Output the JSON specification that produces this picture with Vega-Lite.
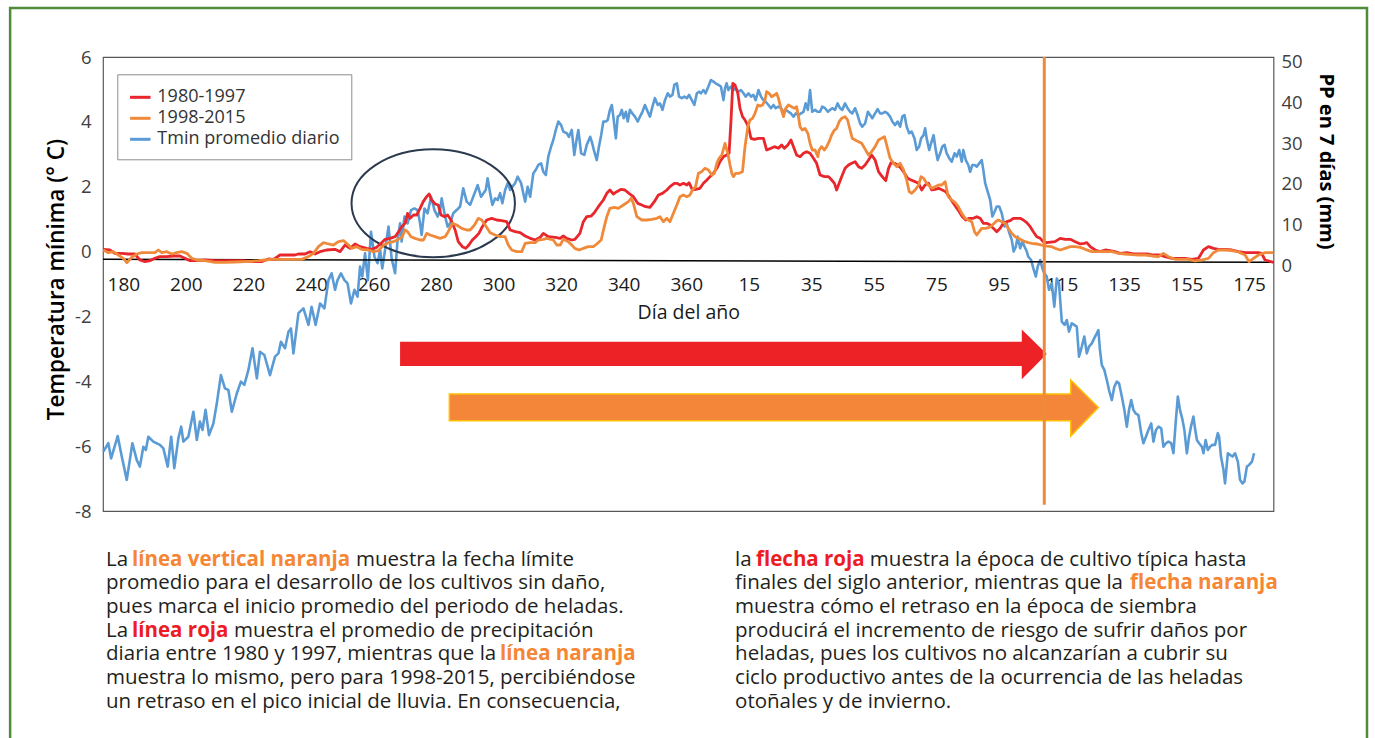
{
"$schema": "https://vega.github.io/schema/vega-lite/v6.json",
"width": 1170.5,
"height": 454,
"autosize": {"type": "none"},
"padding": {"left": 103, "top": 57, "right": 101.5, "bottom": 227},
"background": "white",
"config": {"font": "Open Sans", "view": {"stroke": "#595959", "strokeWidth": 1.2}},
"datasets": {
"frame": [{"d": 143.8, "d2": 577.7, "t": 7.51, "t2": -15.7}],
"zero": [{"d": 173.5, "d2": 547.8, "p": 1.4, "p2": 0.66}],
"vline": [{"d": 474.5, "t": 6, "t2": -7.81}],
"ellipse": [{"d": 279.1, "t": 1.49}],
"arrowRed": [{"d": 268.5, "t": -2.78, "t2": -3.53}, {"d": 467.3, "t": -2.78, "t2": -3.53}, {"d": 467.31, "t": -2.40, "t2": -3.94}, {"d": 475.3, "t": -3.16, "t2": -3.16}],
"arrowOrange": [{"d": 284.25, "t": -4.39, "t2": -5.22}, {"d": 482.97, "t": -4.39, "t2": -5.22}, {"d": 482.98, "t": -3.96, "t2": -5.69}, {"d": 491.8, "t": -4.81, "t2": -4.81}],
"notes": [
{"d": 174.47, "t": -9.686, "k": "n", "s": "La"},
{"d": 182.78, "t": -9.686, "k": "o", "s": "línea vertical naranja"},
{"d": 254.42, "t": -9.686, "k": "n", "s": "muestra la fecha límite"},
{"d": 174.47, "t": -10.417, "k": "n", "s": "promedio para el desarrollo de los cultivos sin daño,"},
{"d": 174.47, "t": -11.148, "k": "n", "s": "pues marca el inicio promedio del periodo de heladas."},
{"d": 174.47, "t": -11.879, "k": "n", "s": "La"},
{"d": 182.78, "t": -11.879, "k": "r", "s": "línea roja"},
{"d": 215.4, "t": -11.879, "k": "n", "s": "muestra el promedio de precipitación"},
{"d": 174.47, "t": -12.61, "k": "n", "s": "diaria entre 1980 y 1997, mientras que la"},
{"d": 300.47, "t": -12.61, "k": "o", "s": "línea naranja"},
{"d": 174.47, "t": -13.34, "k": "n", "s": "muestra lo mismo, pero para 1998-2015, percibiéndose"},
{"d": 174.47, "t": -14.071, "k": "n", "s": "un retraso en el pico inicial de lluvia. En consecuencia,"},
{"d": 375.62, "t": -9.686, "k": "n", "s": "la"},
{"d": 382.33, "t": -9.686, "k": "r", "s": "flecha roja"},
{"d": 418.72, "t": -9.686, "k": "n", "s": "muestra la época de cultivo típica hasta"},
{"d": 375.62, "t": -10.417, "k": "n", "s": "finales del siglo anterior, mientras que la"},
{"d": 501.94, "t": -10.417, "k": "o", "s": "flecha naranja"},
{"d": 375.62, "t": -11.148, "k": "n", "s": "muestra cómo el retraso en la época de siembra"},
{"d": 375.62, "t": -11.879, "k": "n", "s": "producirá el incremento de riesgo de sufrir daños por"},
{"d": 375.62, "t": -12.61, "k": "n", "s": "heladas, pues los cultivos no alcanzarían a cubrir su"},
{"d": 375.62, "t": -13.34, "k": "n", "s": "ciclo productivo antes de la ocurrencia de las heladas"},
{"d": 375.62, "t": -14.071, "k": "n", "s": "otoñales y de invierno."}
],
"tmin": [
{"d":173.6,"t":-6.17},{"d":175.2,"t":-5.91},{"d":176.1,"t":-6.38},{"d":178.2,"t":-5.69},{"d":179.5,"t":-6.32},{"d":181.1,"t":-7.04},{"d":182.9,"t":-5.91},{"d":184.3,"t":-6.43},{"d":185.3,"t":-6.63},{"d":186.4,"t":-6.02},{"d":187.2,"t":-6.12},{"d":188.0,"t":-5.71},{"d":189.6,"t":-5.86},{"d":191.7,"t":-5.96},{"d":192.8,"t":-6.07},{"d":194.2,"t":-6.63},{"d":195.3,"t":-5.71},{"d":196.3,"t":-6.68},{"d":197.6,"t":-5.76},{"d":198.5,"t":-5.40},{"d":199.2,"t":-5.86},{"d":200.8,"t":-5.71},{"d":202.4,"t":-4.94},{"d":203.5,"t":-5.81},{"d":204.5,"t":-5.24},{"d":205.3,"t":-5.50},{"d":206.3,"t":-4.88},{"d":207.4,"t":-5.66},{"d":208.8,"t":-5.30},{"d":209.9,"t":-4.68},{"d":211.2,"t":-3.81},{"d":212.5,"t":-4.22},{"d":213.6,"t":-4.27},{"d":214.7,"t":-4.94},{"d":216.3,"t":-4.37},{"d":217.6,"t":-4.01},{"d":218.7,"t":-4.11},{"d":220.0,"t":-3.65},{"d":221.3,"t":-2.98},{"d":222.7,"t":-3.91},{"d":223.7,"t":-3.09},{"d":225.1,"t":-3.19},{"d":226.9,"t":-3.81},{"d":228.5,"t":-3.24},{"d":229.6,"t":-3.14},{"d":230.4,"t":-2.78},{"d":231.7,"t":-2.98},{"d":232.8,"t":-2.47},{"d":233.6,"t":-2.37},{"d":234.4,"t":-3.14},
{"d":236.0,"t":-1.90},{"d":237.6,"t":-1.75},{"d":239.2,"t":-2.26},{"d":240.2,"t":-1.70},{"d":241.5,"t":-2.26},{"d":242.9,"t":-1.60},{"d":244.3,"t":-1.75},{"d":245.6,"t":-0.88},{"d":246.6,"t":-0.67},{"d":247.7,"t":-1.18},{"d":248.5,"t":-0.88},{"d":249.6,"t":-0.67},{"d":250.7,"t":-0.88},{"d":251.7,"t":-0.98},{"d":252.8,"t":-1.60},{"d":253.9,"t":-1.18},{"d":254.9,"t":-1.39},{"d":255.7,"t":-0.46},{"d":256.4,"t":-0.77},{"d":257.3,"t":-0.05},{"d":258.2,"t":-0.88},{"d":259.2,"t":0.61},{"d":260.3,"t":-0.16},{"d":261.3,"t":-0.36},{"d":262.1,"t":0.05},{"d":262.8,"t":-0.52},{"d":263.7,"t":0.05},{"d":264.8,"t":0.77},{"d":265.8,"t":-0.21},{"d":266.9,"t":-0.67},{"d":267.7,"t":0.36},{"d":268.5,"t":0.87},{"d":269.0,"t":0.31},{"d":269.9,"t":1.08},{"d":270.9,"t":0.87},{"d":272.0,"t":1.28},{"d":273.1,"t":1.33},{"d":274.1,"t":1.28},{"d":274.9,"t":0.87},{"d":275.4,"t":0.51},{"d":276.3,"t":1.33},{"d":277.3,"t":1.18},{"d":278.4,"t":1.69},{"d":279.5,"t":1.28},{"d":280.5,"t":1.08},{"d":281.3,"t":1.28},{"d":281.8,"t":1.64},{"d":282.9,"t":1.08},{"d":283.7,"t":0.77},{"d":284.5,"t":0.87},{"d":285.5,"t":1.18},{"d":286.6,"t":1.28},{"d":287.7,"t":1.39},{"d":288.7,"t":1.95},{"d":289.8,"t":1.54},{"d":290.9,"t":1.44},{"d":291.9,"t":1.69},{"d":293.3,"t":2.05},
{"d":294.4,"t":1.69},{"d":295.9,"t":1.90},{"d":296.5,"t":2.26},{"d":297.3,"t":1.80},{"d":298.0,"t":1.44},{"d":298.9,"t":1.64},{"d":299.7,"t":1.59},{"d":300.5,"t":1.80},{"d":301.2,"t":1.49},{"d":302.1,"t":1.90},{"d":302.9,"t":2.11},{"d":303.7,"t":1.90},{"d":304.4,"t":2.00},{"d":305.3,"t":2.11},{"d":306.1,"t":2.31},{"d":307.2,"t":2.11},{"d":307.9,"t":1.80},{"d":308.5,"t":1.54},{"d":309.3,"t":2.00},{"d":310.1,"t":1.69},{"d":311.1,"t":2.41},{"d":311.9,"t":2.52},{"d":312.7,"t":2.67},{"d":313.6,"t":2.72},{"d":314.3,"t":2.46},{"d":315.1,"t":2.36},{"d":315.9,"t":2.93},{"d":316.8,"t":3.24},{"d":317.5,"t":3.44},{"d":318.3,"t":3.75},{"d":319.1,"t":4.01},{"d":320.0,"t":3.90},{"d":320.7,"t":3.70},{"d":321.8,"t":3.65},{"d":322.5,"t":3.54},{"d":323.4,"t":3.75},{"d":324.2,"t":2.98},{"d":325.0,"t":3.49},{"d":325.5,"t":3.75},{"d":326.4,"t":3.03},{"d":327.4,"t":2.98},{"d":328.2,"t":3.29},{"d":329.3,"t":3.54},{"d":329.8,"t":3.39},{"d":330.6,"t":3.08},{"d":331.4,"t":2.82},{"d":332.1,"t":3.24},{"d":332.8,"t":3.59},{"d":333.5,"t":4.01},{"d":334.3,"t":4.01},{"d":334.9,"t":4.06},{"d":335.6,"t":4.37},{"d":336.2,"t":4.52},{"d":336.7,"t":4.16},{"d":337.5,"t":3.49},{"d":338.1,"t":4.16},{"d":338.8,"t":4.21},{"d":339.4,"t":4.37},{"d":340.0,"t":4.11},{"d":340.7,"t":4.31},{"d":341.3,"t":4.01},{"d":342.0,"t":4.37},{"d":342.8,"t":4.26},{"d":343.6,"t":4.16},{"d":344.5,"t":4.01},{"d":345.2,"t":4.16},{"d":346.0,"t":4.31},{"d":346.8,"t":4.52},{"d":347.7,"t":4.31},{"d":348.4,"t":4.16},{"d":349.2,"t":4.47},{"d":350.0,"t":4.73},{"d":350.9,"t":4.52},{"d":351.6,"t":4.57},{"d":352.4,"t":4.37},{"d":353.2,"t":4.67},{"d":354.1,"t":4.88},{"d":354.8,"t":4.78},{"d":355.6,"t":4.83},{"d":356.2,"t":5.14},
{"d":357.0,"t":5.19},{"d":357.7,"t":4.78},{"d":358.6,"t":4.73},{"d":359.4,"t":4.78},{"d":360.2,"t":4.73},{"d":360.9,"t":4.83},{"d":361.8,"t":4.67},{"d":362.6,"t":4.52},{"d":363.4,"t":4.88},{"d":364.1,"t":4.93},{"d":364.7,"t":4.88},{"d":365.5,"t":4.98},{"d":366.2,"t":4.88},{"d":367.1,"t":5.09},{"d":367.9,"t":5.29},{"d":368.7,"t":5.24},{"d":369.4,"t":5.19},{"d":370.3,"t":5.14},{"d":371.1,"t":5.09},{"d":371.9,"t":4.67},{"d":372.4,"t":5.03},{"d":372.9,"t":5.19},{"d":373.5,"t":4.98},{"d":374.3,"t":5.09},{"d":375.1,"t":4.98},{"d":375.8,"t":5.03},{"d":376.7,"t":4.93},{"d":377.5,"t":4.98},{"d":378.3,"t":4.88},{"d":379.0,"t":4.78},{"d":379.9,"t":4.88},{"d":380.7,"t":4.78},{"d":381.5,"t":4.83},{"d":382.2,"t":4.67},{"d":383.1,"t":4.98},{"d":383.9,"t":4.78},{"d":384.7,"t":4.67},{"d":385.4,"t":4.62},{"d":386.3,"t":4.52},{"d":387.1,"t":4.42},{"d":387.9,"t":4.52},{"d":388.6,"t":4.42},{"d":389.5,"t":4.47},{"d":390.3,"t":4.42},{"d":391.1,"t":4.31},{"d":391.8,"t":4.37},{"d":392.7,"t":4.31},{"d":393.5,"t":4.26},{"d":394.3,"t":4.16},{"d":395.0,"t":4.26},{"d":395.9,"t":4.21},{"d":396.7,"t":4.26},{"d":397.5,"t":4.31},{"d":398.2,"t":4.57},{"d":398.9,"t":4.37},{"d":399.6,"t":4.98},{"d":400.3,"t":4.31},{"d":401.2,"t":4.37},{"d":402.0,"t":4.31},{"d":402.8,"t":4.31},{"d":403.5,"t":4.47},{"d":404.4,"t":4.42},{"d":405.3,"t":4.31},{"d":406.0,"t":4.37},{"d":406.7,"t":4.42},{"d":407.6,"t":4.37},{"d":408.4,"t":4.57},{"d":409.2,"t":4.42},{"d":409.9,"t":4.37},{"d":410.8,"t":4.57},{"d":411.6,"t":4.42},{"d":412.4,"t":4.31},{"d":413.1,"t":4.26},{"d":414.0,"t":4.42},{"d":414.8,"t":4.21},{"d":415.6,"t":3.95},{"d":416.3,"t":3.85},{"d":417.2,"t":3.95},
{"d":418.1,"t":4.31},{"d":418.8,"t":4.21},{"d":419.5,"t":4.11},{"d":420.4,"t":4.26},{"d":421.2,"t":4.39},{"d":422.0,"t":4.26},{"d":422.7,"t":4.26},{"d":423.6,"t":4.31},{"d":424.4,"t":4.26},{"d":425.2,"t":4.16},{"d":425.9,"t":4.01},{"d":426.8,"t":3.90},{"d":427.6,"t":4.01},{"d":428.4,"t":3.85},{"d":429.1,"t":4.16},{"d":429.8,"t":4.21},{"d":430.5,"t":3.85},{"d":431.3,"t":3.65},{"d":432.1,"t":3.70},{"d":433.0,"t":3.49},{"d":433.7,"t":3.13},{"d":434.5,"t":3.24},{"d":435.1,"t":3.49},{"d":435.9,"t":3.59},{"d":436.4,"t":3.80},{"d":436.9,"t":3.49},{"d":437.7,"t":3.13},{"d":438.3,"t":3.34},{"d":439.1,"t":3.59},{"d":439.8,"t":3.13},{"d":440.4,"t":2.82},{"d":441.2,"t":3.03},{"d":441.9,"t":3.24},{"d":442.6,"t":3.29},{"d":443.3,"t":3.03},{"d":444.1,"t":2.88},{"d":444.9,"t":2.77},{"d":445.8,"t":3.03},{"d":446.5,"t":2.93},{"d":447.3,"t":3.13},{"d":448.1,"t":2.77},{"d":448.6,"t":3.13},{"d":449.4,"t":2.82},{"d":450.2,"t":2.67},{"d":450.8,"t":2.46},{"d":451.5,"t":2.67},{"d":452.2,"t":2.67},{"d":452.9,"t":2.62},{"d":453.7,"t":2.72},{"d":454.5,"t":2.82},{"d":455.0,"t":2.52},{"d":455.6,"t":2.11},{"d":456.4,"t":1.85},{"d":457.2,"t":1.59},{"d":457.9,"t":1.08},{"d":458.6,"t":1.23},{"d":459.3,"t":1.39},{"d":460.1,"t":1.39},{"d":460.9,"t":1.18},{"d":461.8,"t":0.77},{"d":462.5,"t":0.87},{"d":463.2,"t":0.61},{"d":464.1,"t":0.36},{"d":464.7,"t":0.00},{"d":465.4,"t":0.15},{"d":466.0,"t":0.46},{"d":466.8,"t":0.10},{"d":467.5,"t":0.31},{"d":468.2,"t":0.15},{"d":468.9,"t":0.00},{"d":469.4,"t":-0.16},{"d":470.3,"t":-0.26},{"d":471.0,"t":-0.52},{"d":471.8,"t":-0.77},{"d":472.4,"t":-0.46},{"d":473.2,"t":-0.26},{"d":473.9,"t":-0.52},{"d":474.5,"t":-0.67},
{"d":475.3,"t":-0.77},{"d":476.0,"t":-1.18},{"d":476.9,"t":-0.98},{"d":477.7,"t":-1.70},{"d":478.5,"t":-0.83},{"d":479.2,"t":-0.98},{"d":480.1,"t":-2.16},{"d":481.0,"t":-2.26},{"d":481.7,"t":-2.11},{"d":482.4,"t":-2.47},{"d":483.3,"t":-2.21},{"d":484.1,"t":-2.26},{"d":484.9,"t":-2.32},{"d":485.6,"t":-3.24},{"d":486.5,"t":-2.93},{"d":487.3,"t":-2.62},{"d":488.1,"t":-3.14},{"d":488.8,"t":-2.93},{"d":489.7,"t":-2.83},{"d":490.5,"t":-2.67},{"d":491.3,"t":-2.52},{"d":491.8,"t":-2.42},{"d":492.3,"t":-3.03},{"d":492.9,"t":-3.50},{"d":493.7,"t":-3.65},{"d":494.5,"t":-3.96},{"d":495.2,"t":-4.27},{"d":496.1,"t":-4.58},{"d":496.9,"t":-4.17},{"d":497.7,"t":-4.01},{"d":498.4,"t":-4.06},{"d":499.3,"t":-4.47},{"d":500.1,"t":-4.88},{"d":500.9,"t":-5.40},{"d":501.6,"t":-4.88},{"d":502.3,"t":-4.58},{"d":503.0,"t":-4.88},{"d":503.7,"t":-4.99},{"d":504.6,"t":-5.04},{"d":505.5,"t":-5.60},{"d":506.2,"t":-5.91},{"d":507.0,"t":-5.71},{"d":507.8,"t":-5.50},{"d":508.7,"t":-5.30},{"d":509.4,"t":-5.86},{"d":510.2,"t":-5.50},{"d":511.0,"t":-5.40},{"d":511.9,"t":-5.45},{"d":512.6,"t":-6.02},{"d":513.4,"t":-5.91},{"d":514.2,"t":-5.86},{"d":515.1,"t":-5.91},{"d":515.8,"t":-6.22},{"d":516.5,"t":-5.30},{"d":517.2,"t":-4.47},{"d":517.9,"t":-4.88},{"d":518.7,"t":-5.19},{"d":519.3,"t":-5.50},{"d":520.1,"t":-6.22},{"d":520.8,"t":-5.71},{"d":521.4,"t":-5.40},{"d":522.2,"t":-5.09},{"d":522.7,"t":-5.45},{"d":523.3,"t":-5.81},{"d":524.0,"t":-5.91},{"d":524.9,"t":-6.02},{"d":525.4,"t":-6.22},{"d":526.1,"t":-5.81},{"d":526.8,"t":-6.12},{"d":527.5,"t":-6.02},{"d":528.3,"t":-5.96},{"d":529.1,"t":-5.96},{"d":530.0,"t":-5.60},{"d":530.4,"t":-5.71},{"d":531.0,"t":-6.32},{"d":531.8,"t":-6.73},{"d":532.3,"t":-7.15},{"d":533.2,"t":-6.22},{"d":533.9,"t":-6.27},{"d":534.7,"t":-6.32},{"d":535.5,"t":-6.22},{"d":536.4,"t":-6.48},{"d":537.1,"t":-7.04},{"d":537.9,"t":-7.15},{"d":538.5,"t":-7.09},{"d":539.3,"t":-6.63},{"d":540.0,"t":-6.58},{"d":540.9,"t":-6.48},{"d":541.6,"t":-6.22}
],
"red": [
{"d":173.6,"p":3.86},{"d":175.7,"p":3.69},{"d":177.3,"p":2.87},{"d":179.5,"p":2.87},{"d":181.6,"p":2.71},{"d":183.7,"p":2.71},{"d":185.3,"p":1.23},{"d":186.9,"p":0.82},{"d":188.5,"p":1.07},{"d":190.1,"p":1.64},{"d":191.7,"p":2.05},{"d":193.9,"p":2.05},{"d":196.0,"p":2.22},{"d":198.1,"p":2.22},{"d":199.7,"p":1.64},{"d":201.3,"p":1.07},{"d":202.9,"p":1.07},{"d":206.1,"p":1.23},{"d":209.3,"p":1.07},{"d":213.6,"p":1.07},{"d":217.9,"p":1.07},{"d":222.1,"p":0.82},{"d":224.2,"p":0.82},{"d":226.4,"p":1.48},{"d":228.0,"p":1.40},{"d":230.1,"p":2.46},{"d":232.2,"p":2.46},{"d":234.9,"p":2.46},
{"d":236.0,"p":2.71},{"d":238.1,"p":2.71},{"d":239.7,"p":3.28},{"d":241.3,"p":2.71},{"d":242.9,"p":3.28},{"d":245.0,"p":3.69},{"d":247.7,"p":3.86},{"d":249.3,"p":3.28},{"d":250.9,"p":4.92},{"d":252.5,"p":4.10},{"d":254.1,"p":5.17},{"d":255.7,"p":4.51},{"d":257.8,"p":4.10},{"d":259.4,"p":3.86},{"d":261.0,"p":4.35},{"d":262.6,"p":5.50},{"d":263.7,"p":6.32},{"d":265.3,"p":6.56},{"d":266.9,"p":6.97},{"d":268.0,"p":8.20},{"d":269.0,"p":9.43},{"d":270.1,"p":10.25},{"d":270.9,"p":12.71},{"d":271.7,"p":11.48},{"d":272.8,"p":12.30},{"d":273.8,"p":12.30},{"d":274.9,"p":13.94},{"d":275.9,"p":15.58},{"d":277.0,"p":16.81},{"d":277.8,"p":17.47},{"d":278.6,"p":15.99},{"d":279.7,"p":15.01},{"d":280.7,"p":14.76},{"d":281.6,"p":12.30},{"d":282.7,"p":11.89},{"d":283.7,"p":12.30},{"d":284.8,"p":11.07},{"d":286.1,"p":8.61},{"d":287.1,"p":5.74},{"d":288.4,"p":4.51},{"d":289.5,"p":4.10},{"d":290.5,"p":4.92},{"d":291.6,"p":6.15},{"d":292.7,"p":6.97},{"d":293.7,"p":7.79},{"d":294.8,"p":9.43},
{"d":296.2,"p":11.07},{"d":297.8,"p":11.48},{"d":299.4,"p":11.07},{"d":301.0,"p":10.91},{"d":302.6,"p":10.66},{"d":303.7,"p":8.61},{"d":305.3,"p":8.20},{"d":306.9,"p":7.96},{"d":308.5,"p":7.14},{"d":310.1,"p":6.56},{"d":311.7,"p":6.15},{"d":313.3,"p":6.81},{"d":314.3,"p":7.79},{"d":315.9,"p":6.97},{"d":318.1,"p":6.81},{"d":319.7,"p":6.56},{"d":320.7,"p":7.14},{"d":321.8,"p":6.56},{"d":323.4,"p":6.15},{"d":324.4,"p":6.32},{"d":326.0,"p":7.79},{"d":327.1,"p":10.66},{"d":328.2,"p":11.89},{"d":329.6,"p":12.05},{"d":330.6,"p":12.87},{"d":331.9,"p":14.35},{"d":333.5,"p":15.99},{"d":334.6,"p":17.63},{"d":335.6,"p":18.45},{"d":336.7,"p":17.47},{"d":337.8,"p":18.04},{"d":339.2,"p":18.61},{"d":340.4,"p":18.45},{"d":341.7,"p":17.63},{"d":343.1,"p":16.81},{"d":344.5,"p":15.17},{"d":345.8,"p":14.76},{"d":347.0,"p":14.35},{"d":348.4,"p":14.19},{"d":349.8,"p":15.58},{"d":351.1,"p":17.22},{"d":352.4,"p":17.63},{"d":353.8,"p":18.45},{"d":354.8,"p":19.27},{"d":356.2,"p":20.09},
{"d":357.0,"p":20.09},{"d":358.0,"p":19.68},{"d":359.1,"p":20.09},{"d":360.2,"p":19.68},{"d":360.9,"p":20.25},{"d":362.0,"p":18.45},{"d":363.0,"p":18.61},{"d":364.4,"p":18.86},{"d":365.5,"p":20.09},{"d":366.6,"p":20.91},{"d":367.6,"p":21.73},{"d":368.7,"p":22.55},{"d":369.8,"p":23.78},{"d":370.8,"p":25.42},{"d":371.9,"p":26.65},{"d":372.9,"p":27.06},{"d":373.7,"p":27.47},{"d":374.3,"p":35.25},{"d":374.9,"p":44.68},{"d":375.6,"p":44.27},{"d":376.5,"p":42.22},{"d":377.2,"p":38.53},{"d":378.0,"p":36.48},{"d":378.8,"p":35.66},{"d":379.9,"p":34.02},{"d":380.7,"p":31.16},{"d":381.8,"p":30.91},{"d":383.1,"p":31.16},{"d":384.7,"p":31.16},{"d":385.7,"p":28.29},{"d":387.1,"p":28.70},{"d":388.2,"p":29.11},{"d":389.5,"p":28.70},{"d":390.5,"p":29.52},{"d":391.4,"p":28.70},{"d":392.5,"p":29.52},{"d":393.5,"p":30.75},{"d":394.3,"p":29.11},{"d":395.3,"p":27.06},{"d":396.4,"p":26.65},{"d":397.5,"p":27.47},{"d":398.5,"p":27.88},{"d":399.6,"p":27.47},{"d":400.7,"p":26.24},{"d":401.7,"p":25.01},{"d":402.8,"p":22.14},{"d":404.2,"p":21.73},{"d":405.5,"p":21.73},{"d":406.5,"p":20.91},{"d":407.4,"p":20.09},{"d":408.1,"p":18.45},{"d":408.9,"p":20.09},{"d":409.7,"p":21.73},{"d":410.8,"p":23.78},{"d":411.9,"p":24.60},{"d":412.9,"p":25.01},{"d":414.0,"p":25.42},{"d":415.1,"p":24.19},{"d":416.1,"p":23.78},{"d":417.2,"p":24.60},
{"d":418.3,"p":25.83},{"d":419.3,"p":27.06},{"d":420.4,"p":25.83},{"d":421.5,"p":22.96},{"d":422.5,"p":21.89},{"d":423.8,"p":20.75},{"d":424.7,"p":23.78},{"d":425.5,"p":25.17},{"d":426.6,"p":25.01},{"d":427.6,"p":24.60},{"d":428.7,"p":23.78},{"d":429.8,"p":22.55},{"d":430.8,"p":21.32},{"d":431.9,"p":20.91},{"d":433.2,"p":20.50},{"d":434.3,"p":20.09},{"d":435.3,"p":18.45},{"d":436.4,"p":19.68},{"d":437.5,"p":20.09},{"d":438.5,"p":18.45},{"d":439.6,"p":18.61},{"d":440.7,"p":18.86},{"d":441.9,"p":18.45},{"d":443.0,"p":18.04},{"d":444.1,"p":16.81},{"d":445.1,"p":15.58},{"d":446.2,"p":14.35},{"d":447.3,"p":13.12},{"d":448.3,"p":11.89},{"d":449.4,"p":11.07},{"d":450.5,"p":11.48},{"d":451.8,"p":11.48},{"d":452.9,"p":11.89},{"d":454.0,"p":11.48},{"d":455.0,"p":10.25},{"d":456.1,"p":10.25},{"d":457.2,"p":9.84},{"d":458.2,"p":9.02},{"d":459.3,"p":8.20},{"d":460.4,"p":9.02},{"d":461.4,"p":10.25},{"d":462.5,"p":10.66},{"d":463.6,"p":10.91},{"d":464.6,"p":11.48},{"d":465.7,"p":11.48},{"d":466.8,"p":11.48},{"d":467.8,"p":11.07},{"d":468.9,"p":10.41},{"d":470.0,"p":9.43},{"d":471.0,"p":8.20},{"d":472.1,"p":6.97},{"d":473.2,"p":6.56},{"d":474.2,"p":5.74},{"d":475.3,"p":5.50},
{"d":477.9,"p":5.74},{"d":479.6,"p":6.56},{"d":481.2,"p":6.32},{"d":482.8,"p":6.32},{"d":484.4,"p":5.74},{"d":486.0,"p":5.17},{"d":487.3,"p":5.33},{"d":488.1,"p":5.50},{"d":489.2,"p":4.51},{"d":490.8,"p":3.69},{"d":492.3,"p":3.28},{"d":494.0,"p":3.69},{"d":495.5,"p":3.53},{"d":497.1,"p":3.28},{"d":498.7,"p":2.87},{"d":500.9,"p":3.04},{"d":503.0,"p":2.71},{"d":505.1,"p":2.71},{"d":507.3,"p":2.71},{"d":509.4,"p":2.46},{"d":511.5,"p":2.46},{"d":513.1,"p":2.05},{"d":515.3,"p":1.64},{"d":517.4,"p":1.64},{"d":519.5,"p":1.64},{"d":521.7,"p":1.40},{"d":523.8,"p":1.64},{"d":525.4,"p":3.69},{"d":527.0,"p":4.51},{"d":528.6,"p":4.10},{"d":530.2,"p":3.86},{"d":532.3,"p":3.86},{"d":534.5,"p":3.69},{"d":536.6,"p":3.28},{"d":538.7,"p":3.04},{"d":540.9,"p":3.04},{"d":543.0,"p":3.04},{"d":544.0,"p":2.87},{"d":545.1,"p":1.23},{"d":547.8,"p":0.66}
],
"orange": [
{"d":173.6,"p":3.69},{"d":175.2,"p":3.04},{"d":176.8,"p":3.28},{"d":178.4,"p":2.46},{"d":180.0,"p":1.64},{"d":181.1,"p":0.57},{"d":182.7,"p":1.89},{"d":184.3,"p":2.71},{"d":185.9,"p":3.04},{"d":188.0,"p":3.04},{"d":190.1,"p":3.04},{"d":191.2,"p":3.69},{"d":192.3,"p":3.04},{"d":193.9,"p":3.28},{"d":195.5,"p":2.71},{"d":197.1,"p":3.04},{"d":198.7,"p":3.28},{"d":200.3,"p":2.87},{"d":201.9,"p":1.64},{"d":203.5,"p":1.23},{"d":206.1,"p":1.07},{"d":209.3,"p":0.66},{"d":212.5,"p":0.66},{"d":215.7,"p":0.74},{"d":220.0,"p":0.90},{"d":223.2,"p":1.07},{"d":225.3,"p":1.23},{"d":227.4,"p":1.40},{"d":229.6,"p":1.40},{"d":231.7,"p":1.40},{"d":234.9,"p":1.40},
{"d":237.0,"p":1.40},{"d":239.2,"p":2.05},{"d":240.8,"p":2.87},{"d":242.4,"p":4.51},{"d":244.0,"p":5.50},{"d":245.6,"p":5.17},{"d":247.2,"p":4.92},{"d":248.8,"p":5.74},{"d":250.4,"p":5.99},{"d":252.0,"p":4.92},{"d":253.0,"p":4.10},{"d":254.6,"p":4.51},{"d":256.2,"p":3.86},{"d":258.4,"p":3.69},{"d":260.0,"p":3.28},{"d":261.6,"p":3.53},{"d":263.2,"p":4.92},{"d":264.8,"p":5.50},{"d":266.4,"p":5.74},{"d":268.0,"p":6.32},{"d":269.2,"p":6.97},{"d":270.1,"p":8.61},{"d":270.9,"p":8.20},{"d":272.0,"p":6.97},{"d":273.3,"p":6.56},{"d":274.9,"p":6.15},{"d":276.0,"p":6.15},{"d":277.0,"p":7.79},{"d":278.1,"p":7.38},{"d":279.7,"p":6.97},{"d":281.3,"p":6.56},{"d":282.9,"p":6.97},{"d":283.9,"p":8.20},{"d":285.2,"p":10.25},{"d":286.6,"p":9.84},{"d":288.2,"p":9.02},{"d":289.8,"p":8.61},{"d":290.9,"p":8.61},{"d":292.3,"p":9.84},{"d":293.5,"p":11.48},{"d":294.6,"p":11.07},{"d":295.7,"p":9.84},
{"d":297.3,"p":7.96},{"d":298.9,"p":7.38},{"d":300.5,"p":6.97},{"d":302.1,"p":6.97},{"d":303.1,"p":4.92},{"d":304.2,"p":3.69},{"d":305.8,"p":3.28},{"d":307.4,"p":3.28},{"d":308.5,"p":5.33},{"d":310.1,"p":5.50},{"d":311.7,"p":5.50},{"d":312.7,"p":6.15},{"d":314.3,"p":6.32},{"d":315.4,"p":6.56},{"d":317.5,"p":6.15},{"d":318.6,"p":4.92},{"d":319.7,"p":4.92},{"d":320.7,"p":6.32},{"d":322.3,"p":5.74},{"d":323.4,"p":4.92},{"d":324.4,"p":4.10},{"d":325.7,"p":3.69},{"d":327.1,"p":4.10},{"d":328.7,"p":4.51},{"d":330.3,"p":4.51},{"d":331.4,"p":5.17},{"d":332.8,"p":6.15},{"d":333.8,"p":9.43},{"d":334.6,"p":11.89},{"d":335.6,"p":13.94},{"d":337.0,"p":14.19},{"d":338.3,"p":13.94},{"d":339.9,"p":14.76},{"d":341.5,"p":15.58},{"d":342.4,"p":16.40},{"d":343.1,"p":15.17},{"d":344.2,"p":11.89},{"d":345.8,"p":11.07},{"d":347.4,"p":11.07},{"d":349.0,"p":11.23},{"d":350.6,"p":11.48},{"d":351.6,"p":11.89},{"d":352.7,"p":10.66},{"d":353.8,"p":11.48},{"d":354.8,"p":10.66},
{"d":355.9,"p":12.71},{"d":357.0,"p":14.76},{"d":358.0,"p":16.81},{"d":359.1,"p":17.22},{"d":360.2,"p":16.81},{"d":361.2,"p":17.22},{"d":362.0,"p":18.45},{"d":363.0,"p":19.27},{"d":363.9,"p":22.55},{"d":364.9,"p":22.96},{"d":366.0,"p":23.78},{"d":367.1,"p":23.37},{"d":368.2,"p":22.14},{"d":369.0,"p":22.55},{"d":369.8,"p":25.01},{"d":370.5,"p":26.24},{"d":371.4,"p":27.06},{"d":372.4,"p":29.93},{"d":373.3,"p":27.47},{"d":374.0,"p":24.60},{"d":374.6,"p":22.55},{"d":375.1,"p":21.73},{"d":375.8,"p":22.55},{"d":376.9,"p":22.55},{"d":378.0,"p":22.96},{"d":378.8,"p":29.11},{"d":379.7,"p":34.02},{"d":380.4,"p":35.66},{"d":381.2,"p":36.07},{"d":382.0,"p":37.30},{"d":382.9,"p":39.35},{"d":383.6,"p":39.11},{"d":384.4,"p":39.35},{"d":385.2,"p":40.58},{"d":385.7,"p":42.63},{"d":386.5,"p":42.22},{"d":387.3,"p":41.40},{"d":388.2,"p":41.81},{"d":388.9,"p":42.22},{"d":389.5,"p":40.99},{"d":390.3,"p":38.53},{"d":391.1,"p":36.48},{"d":391.8,"p":38.53},{"d":392.7,"p":39.35},{"d":393.7,"p":38.94},{"d":394.6,"p":38.53},{"d":395.3,"p":38.94},{"d":395.9,"p":36.48},{"d":396.4,"p":34.02},{"d":397.1,"p":33.20},{"d":398.0,"p":33.61},{"d":398.9,"p":32.39},{"d":399.6,"p":29.93},{"d":400.3,"p":28.29},{"d":401.2,"p":28.29},{"d":402.1,"p":26.65},{"d":402.5,"p":28.29},{"d":403.3,"p":29.11},{"d":404.2,"p":28.29},{"d":404.9,"p":29.11},{"d":405.7,"p":30.34},{"d":406.5,"p":31.97},{"d":407.4,"p":33.20},{"d":408.1,"p":33.61},{"d":408.9,"p":35.25},{"d":409.7,"p":36.07},{"d":410.8,"p":36.48},{"d":411.6,"p":35.66},{"d":412.4,"p":33.20},{"d":413.1,"p":31.16},{"d":414.0,"p":30.75},{"d":415.1,"p":30.34},{"d":416.1,"p":29.93},{"d":417.2,"p":28.5},
{"d":418.3,"p":27.06},{"d":419.3,"p":27.88},{"d":420.4,"p":29.11},{"d":421.5,"p":30.75},{"d":422.5,"p":31.16},{"d":423.4,"p":31.57},{"d":424.1,"p":29.52},{"d":425.2,"p":26.24},{"d":426.3,"p":25.01},{"d":427.3,"p":24.19},{"d":428.4,"p":25.01},{"d":429.5,"p":23.37},{"d":430.5,"p":20.91},{"d":431.3,"p":18.04},{"d":432.1,"p":17.63},{"d":433.2,"p":18.45},{"d":434.3,"p":19.68},{"d":435.1,"p":21.73},{"d":435.9,"p":21.32},{"d":436.9,"p":20.09},{"d":438.0,"p":19.27},{"d":438.7,"p":18.86},{"d":439.6,"p":19.27},{"d":440.7,"p":19.68},{"d":441.7,"p":19.68},{"d":442.8,"p":20.50},{"d":443.8,"p":16.81},{"d":444.9,"p":15.99},{"d":446.0,"p":15.33},{"d":447.0,"p":14.35},{"d":448.1,"p":12.71},{"d":449.2,"p":11.48},{"d":450.2,"p":11.07},{"d":451.3,"p":10.66},{"d":452.2,"p":8.20},{"d":452.9,"p":7.38},{"d":453.7,"p":8.20},{"d":454.5,"p":9.02},{"d":455.8,"p":9.02},{"d":456.9,"p":9.27},{"d":457.9,"p":9.84},{"d":459.0,"p":10.66},{"d":459.8,"p":11.07},{"d":460.9,"p":10.66},{"d":462.0,"p":10.25},{"d":463.0,"p":9.02},{"d":464.1,"p":7.79},{"d":465.2,"p":6.97},{"d":466.2,"p":6.56},{"d":467.3,"p":6.15},{"d":468.4,"p":5.74},{"d":469.4,"p":5.50},{"d":470.5,"p":5.33},{"d":472.1,"p":5.17},{"d":473.7,"p":4.92},{"d":475.3,"p":4.67},{"d":476.9,"p":4.51},
{"d":478.0,"p":4.10},{"d":479.6,"p":3.69},{"d":481.2,"p":4.10},{"d":482.8,"p":4.51},{"d":484.4,"p":4.51},{"d":486.0,"p":4.35},{"d":487.6,"p":3.86},{"d":489.7,"p":3.28},{"d":491.8,"p":3.28},{"d":494.0,"p":3.28},{"d":496.1,"p":3.28},{"d":498.2,"p":2.87},{"d":500.3,"p":2.71},{"d":502.5,"p":2.54},{"d":504.6,"p":2.46},{"d":506.7,"p":2.46},{"d":508.9,"p":2.22},{"d":511.0,"p":2.05},{"d":512.6,"p":2.87},{"d":514.2,"p":2.05},{"d":516.3,"p":1.40},{"d":518.5,"p":1.40},{"d":520.6,"p":1.40},{"d":522.7,"p":0.99},{"d":524.9,"p":1.23},{"d":527.0,"p":1.64},{"d":528.6,"p":3.04},{"d":530.2,"p":3.69},{"d":532.3,"p":3.69},{"d":534.5,"p":3.53},{"d":536.6,"p":3.20},{"d":538.7,"p":2.46},{"d":540.0,"p":0.82},{"d":541.4,"p":1.64},{"d":543.0,"p":2.46},{"d":545.1,"p":3.04},{"d":547.8,"p":3.04}
]
},
"encoding": {
"x": {"field": "d", "type": "quantitative",
 "scale": {"domain": [173.5, 547.8], "nice": false, "zero": false},
 "axis": {"values": [180,200,220,240,260,280,300,320,340,360,380,400,420,440,460,480,500,520,540],
  "labelExpr": "datum.value > 365 ? datum.value - 365 : datum.value",
  "title": "Día del año", "offset": -249, "domain": false, "ticks": false, "tickSize": 0, "grid": false,
  "labelFlush": false, "labelOverlap": false, "labelPadding": 13, "labelFontSize": 19, "labelColor": "#1a1a1a",
  "titleFontSize": 19.5, "titleFontWeight": "normal", "titleColor": "#1a1a1a", "titlePadding": 9}}
},
"layer": [
{
"encoding": {"y": {"field": "t", "type": "quantitative", "scale": {"domain": [-8, 6], "nice": false, "zero": false},
 "axis": {"values": [-8,-6,-4,-2,0,2,4,6], "labelExpr": "'' + datum.value", "orient": "left", "title": "Temperatura mínima (° C)", "domain": false, "ticks": false, "tickSize": 0, "grid": false,
  "labelFlush": false, "labelPadding": 12, "labelFontSize": 18.5, "labelColor": "#404040",
  "titleFontSize": 22.5, "titleFontWeight": 600, "titleColor": "#000000", "titlePadding": 6, "titleY": 222}}},
"layer": [
 {"data": {"name": "frame"}, "mark": {"type": "rect", "fillOpacity": 0, "stroke": "#4F8B3A", "strokeWidth": 2.5},
  "encoding": {"x2": {"field": "d2"}, "y2": {"field": "t2"}}},
 {"data": {"name": "tmin"}, "mark": {"type": "line", "strokeWidth": 2.6, "strokeJoin": "round"},
  "encoding": {"color": {"datum": "Tmin promedio diario", "type": "nominal",
   "scale": {"domain": ["1980-1997", "1998-2015", "Tmin promedio diario"], "range": ["#E8262B", "#F08A3B", "#5B9BD5"]},
   "legend": {"orient": "none", "legendX": 14.3, "legendY": 17.3, "title": null, "symbolType": "stroke", "symbolStrokeWidth": 3, "symbolSize": 420,
    "labelFontSize": 18, "labelColor": "#333333", "labelOffset": 5, "strokeColor": "#8c8c8c", "fillColor": "white", "padding": 11, "rowPadding": 0, "labelLimit": 400}}}},
 {"data": {"name": "arrowRed"}, "mark": {"type": "area", "fill": "#EC2227", "opacity": 1},
  "encoding": {"y2": {"field": "t2"}}},
 {"data": {"name": "arrowOrange"}, "mark": {"type": "area", "fill": "#F4863A", "stroke": "#FFC000", "strokeWidth": 1.5, "opacity": 1},
  "encoding": {"y2": {"field": "t2"}}},
 {"data": {"name": "ellipse"}, "mark": {"type": "point", "shape": "M-1,0A1,0.661,0,1,1,1,0A1,0.661,0,1,1,-1,0Z", "size": 26700, "filled": false, "stroke": "#2B3A4E", "strokeWidth": 2, "opacity": 1}},
 {"data": {"name": "notes"}, "transform": [{"filter": "datum.k == 'n'"}],
  "mark": {"type": "text", "align": "left", "baseline": "alphabetic", "fontSize": 20.5, "color": "#231F20"},
  "encoding": {"text": {"field": "s"}}},
 {"data": {"name": "notes"}, "transform": [{"filter": "datum.k == 'o'"}],
  "mark": {"type": "text", "align": "left", "baseline": "alphabetic", "fontSize": 20.5, "fontWeight": "bold", "color": "#F58634"},
  "encoding": {"text": {"field": "s"}}},
 {"data": {"name": "notes"}, "transform": [{"filter": "datum.k == 'r'"}],
  "mark": {"type": "text", "align": "left", "baseline": "alphabetic", "fontSize": 20.5, "fontWeight": "bold", "color": "#ED1C24"},
  "encoding": {"text": {"field": "s"}}}
]
},
{
"encoding": {"y": {"field": "p", "type": "quantitative", "scale": {"domain": [-60.5, 51.16], "nice": false, "zero": false},
 "axis": {"values": [0,10,20,30,40,50], "orient": "right", "title": "PP en 7 días (mm)", "domain": false, "ticks": false, "tickSize": 0, "grid": false,
  "labelFlush": false, "labelPadding": 7.5, "labelFontSize": 18.5, "labelColor": "#404040",
  "titleFontSize": 20, "titleFontWeight": "bold", "titleColor": "#000000", "titlePadding": 13, "titleY": 104}}},
"layer": [
 {"data": {"name": "zero"}, "mark": {"type": "rule", "color": "#000000", "strokeWidth": 1.5},
  "encoding": {"x2": {"field": "d2"}, "y2": {"field": "p2"}}},
 {"data": {"name": "red"}, "mark": {"type": "line", "strokeWidth": 2.8, "strokeJoin": "round"},
  "encoding": {"color": {"datum": "1980-1997", "type": "nominal",
   "scale": {"domain": ["1980-1997", "1998-2015", "Tmin promedio diario"], "range": ["#E8262B", "#F08A3B", "#5B9BD5"]},
   "legend": {"orient": "none", "legendX": 14.3, "legendY": 17.3, "title": null, "symbolType": "stroke", "symbolStrokeWidth": 3, "symbolSize": 420,
    "labelFontSize": 18, "labelColor": "#333333", "labelOffset": 5, "strokeColor": "#8c8c8c", "fillColor": "white", "padding": 11, "rowPadding": 0, "labelLimit": 400}}}},
 {"data": {"name": "orange"}, "mark": {"type": "line", "strokeWidth": 2.8, "strokeJoin": "round"},
  "encoding": {"color": {"datum": "1998-2015", "type": "nominal",
   "scale": {"domain": ["1980-1997", "1998-2015", "Tmin promedio diario"], "range": ["#E8262B", "#F08A3B", "#5B9BD5"]},
   "legend": {"orient": "none", "legendX": 14.3, "legendY": 17.3, "title": null, "symbolType": "stroke", "symbolStrokeWidth": 3, "symbolSize": 420,
    "labelFontSize": 18, "labelColor": "#333333", "labelOffset": 5, "strokeColor": "#8c8c8c", "fillColor": "white", "padding": 11, "rowPadding": 0, "labelLimit": 400}}}}
]
},
{
"encoding": {"y": {"field": "t", "type": "quantitative", "scale": {"domain": [-8, 6], "nice": false, "zero": false}, "axis": null}},
"layer": [
 {"data": {"name": "vline"}, "mark": {"type": "rule", "color": "#F08A3B", "strokeWidth": 3},
  "encoding": {"y2": {"field": "t2"}}}
]
}
],
"resolve": {"scale": {"y": "independent"}}
}
